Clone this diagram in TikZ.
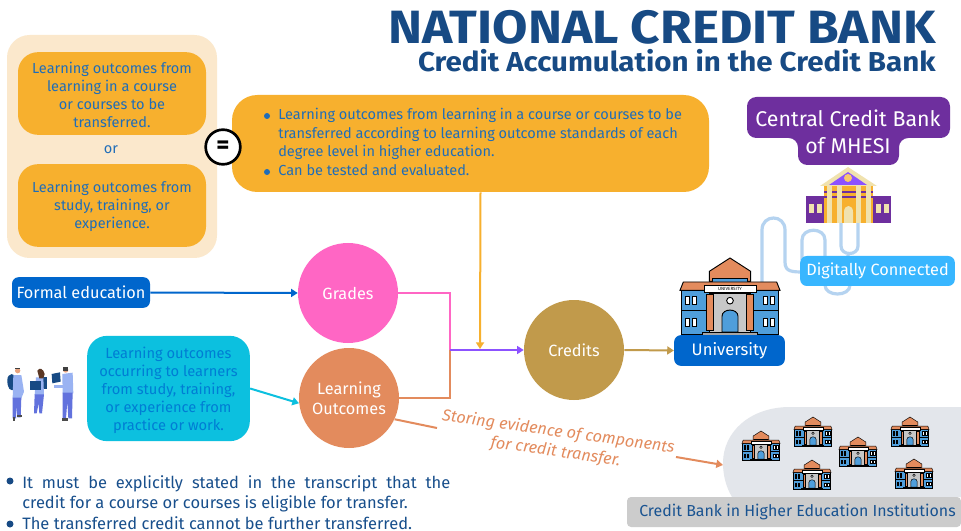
\documentclass[tikz,border=0pt]{standalone}
\usepackage{fontspec}
\setmainfont{Fira Sans}
\usetikzlibrary{arrows.meta,calc}
\definecolor{titleblue}{HTML}{174A84}
\definecolor{txtblue}{HTML}{1F6DB8}
\definecolor{orangebox}{HTML}{F7B02E}
\definecolor{cream}{HTML}{FBE8CC}
\definecolor{purplebox}{HTML}{6E2F9E}
\definecolor{bluebox}{HTML}{0066CC}
\definecolor{skybox}{HTML}{38B6FF}
\definecolor{cyanbox}{HTML}{0CC0DF}
\definecolor{pinkc}{HTML}{FF66C4}
\definecolor{terra}{HTML}{E38B5D}
\definecolor{gold}{HTML}{C19A4B}
\definecolor{violetl}{HTML}{8C52FF}
\definecolor{blobgray}{HTML}{E3E6EB}
\definecolor{stripgray}{HTML}{CCCCCC}
\definecolor{cable}{HTML}{B5D3F0}
\definecolor{bldblue}{HTML}{4F9EDB}
\definecolor{palecol}{HTML}{F0E2AE}
\tikzset{
  x=.75pt,y=-.75pt,
  tip/.style={-{Triangle[length=5pt,width=6pt]}},
  conn/.style={line width=1.5pt},
  body/.style={font=\fontsize{10.9}{13.5}\selectfont,text=txtblue,align=center,inner sep=0pt},
  obox/.style={fill=orangebox,rounded corners=15pt,minimum width=141pt,minimum height=62pt,inner sep=0pt},
  circ/.style={circle,minimum size=75pt,inner sep=0pt,text=white,align=center,font=\fontsize{12.2}{15}\selectfont},
  pill/.style={rounded corners=5pt,inner sep=0pt,text=white},
  pics/uni/.style={code={
    \draw[fill=terra] (-62,40) -- (0,0) -- (62,40) -- (62,70) -- (-62,70) -- cycle;
    \draw[fill=bldblue] (-52,62) rectangle (52,80);
    \draw[fill=bldblue] (-145,95) rectangle (145,230);
    \draw[fill=terra] (-150,97) -- (-140,72) -- (140,72) -- (150,97) -- cycle;
    \draw (-145,158) -- (145,158);
    \foreach \s in {-1,1}{
      \foreach \a in {100,122}{
        \foreach \b in {115,180}{
          \draw[fill=white] (\s*\a,\b) rectangle (\s*\a+\s*12,\b+25);
        }
      }
    }
    \draw[fill=black!22] (-62,105) rectangle (62,226);
    \draw[fill=terra] (-70,110) rectangle (-50,218);
    \draw[fill=terra] (50,110) rectangle (70,218);
    \draw[fill=white] (-78,83) rectangle (78,103);
    \draw[fill=white] (0,128) circle (10);
    \draw[fill=bldblue] (-24,222) -- (-24,175) .. controls (-24,150) and (24,150) .. (24,175) -- (24,222) -- cycle;
    \draw[fill=black!35] (-83,222) rectangle (83,232);
  }}
}
\begin{document}
\begin{tikzpicture}
\useasboundingbox (0,0) rectangle (961,531);
\fill[white] (0,0) rectangle (961,531);

% Title
\node[anchor=base east,inner sep=0pt,text=titleblue,xscale=1.10,font=\fontsize{35}{38}\selectfont\bfseries] (title) at (936,44) {NATIONAL CREDIT BANK};
\node[anchor=base east,inner sep=0pt,text=titleblue,xscale=1.08,font=\fontsize{20.5}{23}\selectfont\bfseries] (subtitle) at (936,72) {Credit Accumulation in the Credit Bank};

% Upper left
\fill[cream,rounded corners=17pt] (7,35) rectangle (217,258);
\node[obox] (lo1) at (112,93.5) {};
\node[body] (lo1t) at ([yshift=-.8pt]lo1.center) {Learning outcomes from\\learning in a course\\or courses to be\\transferred.};
\node[body] (ortxt) at (111,150) {or};
\node[obox] (lo2) at (112,205.5) {};
\node[body] (lo2t) at ([yshift=-.8pt]lo2.center) {Learning outcomes from\\study, training, or\\experience.};

% Big orange box
\node[fill=orangebox,rounded corners=19pt,minimum width=357.75pt,minimum height=72.75pt,inner sep=0pt] (bigbox) at (470.5,143.5) {};
\node[circle,draw=black,line width=2pt,fill=white,minimum size=26pt,inner sep=0pt,font=\fontsize{19}{19}\selectfont\bfseries] (eqs) at (223,147) {=};
\foreach \y in {116,172}{\fill[txtblue] (267,\y) circle (3);}
\node[anchor=north west,inner sep=0pt,font=\fontsize{10.9}{14}\selectfont,text=txtblue,align=left] (bigtxt) at (278,108) {Learning outcomes from learning in a course or courses to be\\transferred according to learning outcome standards of each\\degree level in higher education.\\Can be tested and evaluated.};

% Central bank
\path[fill=purplebox,rounded corners=7pt] (747,97) -- (950,97) -- (950,138) -- (899,138) -- (899,165) -- (798,165) -- (798,138) -- (747,138) -- cycle;
\node[text=white,align=center,inner sep=0pt,font=\fontsize{16}{20.5}\selectfont] (central) at (848,132) {Central Credit Bank\\of MHESI};

% Cable
\draw[cable,line width=2.4pt] (762,282) -- (762,230) .. controls (762,214) and (785,214) .. (785,230) -- (785,262) .. controls (785,272) and (792,272) .. (805,272);
\draw[cable,line width=2.4pt] (802,260) -- (802,240) .. controls (802,227) and (825,227) .. (825,240) -- (825,285) .. controls (825,297) and (850,297) .. (850,285) -- (848,255);
\draw[cable,line width=2.4pt] (841,222) -- (841,246) .. controls (841,256) and (858,256) .. (858,246) -- (858,222);

% Purple building
\fill[purplebox] (806,196) rectangle (891,223);
\fill[orangebox] (824,186) rectangle (873,223);
\fill[purplebox] (824,191) rectangle (873,193);
\fill[purplebox] (824,196) rectangle (873,198);
\fill[palecol] (848,167) -- (820,186) -- (877,186) -- cycle;
\fill[violetl] (848,172) -- (829,185) -- (867,185) -- cycle;
\fill[orangebox!70!white] (848,178) circle (4);
\foreach \a in {827,837,856,866}{\fill[palecol] (\a,186) rectangle (\a+4.5,223);}
\fill[palecol] (844,223) -- (844,212) .. controls (844,204) and (853,204) .. (853,212) -- (853,223) -- cycle;
\foreach \a in {809,817,876,884}{\fill[palecol] (\a,204) rectangle (\a+4.5,213);}

% Labels on the right
\node[fill=skybox,pill,minimum width=116pt,minimum height=22.5pt,font=\fontsize{12.2}{14}\selectfont] (digital) at (877.5,271) {Digitally Connected};
\pic[scale=1/3,line width=.7pt] at (730,258) {uni};
\node[inner sep=0pt,font=\rmfamily\fontsize{3.4}{4}\selectfont] (unisign) at (730,288.5) {UNIVERSITY};
\node[fill=bluebox,pill,minimum width=83pt,minimum height=23pt,font=\fontsize{12.5}{14}\selectfont] (unilabel) at (729.5,350.5) {University};

% Circles
\node[circ,fill=pinkc] (grades) at (348,293) {Grades};
\node[circ,fill=terra] (lo) at (349,398) {\raisebox{-2pt}{Learning}\\\raisebox{-2pt}{Outcomes}};
\node[circ,fill=gold] (credits) at (574,350) {Credits};

% Left boxes
\node[fill=bluebox,pill,minimum width=103.5pt,minimum height=23pt,font=\fontsize{12.2}{14}\selectfont] (formal) at (81,292.5) {Formal education};
\node[fill=cyanbox,rounded corners=15pt,minimum width=122pt,minimum height=79pt,inner sep=0pt] (learners) at (168.5,388.5) {};
\node[inner sep=0pt,align=center,text=bluebox!85!cyan,font=\fontsize{11}{13.5}\selectfont] (learnerst) at ([yshift=-1.2pt]learners.center) {Learning outcomes\\occurring to learners\\from study, training,\\or experience from\\practice or work.};

% People
\begin{scope}[shift={(0,330)},scale=1/3]
  % person 1
  \fill[titleblue] (22,150) .. controls (22,128) and (48,125) .. (48,150) -- (46,178) .. controls (30,186) and (22,175) .. (22,150) -- cycle;
  \fill[blue!15!cable] (40,135) -- (64,135) -- (72,185) -- (64,205) -- (38,205) -- cycle;
  \fill[blue!40!cable!90!black] (38,203) -- (64,203) -- (62,262) -- (52,262) -- (50,225) -- (48,265) -- (38,265) -- cycle;
  \fill[black!70] (38,262) rectangle (45,272);
  \fill[black!70] (52,254) rectangle (66,262);
  \fill[terra!80!white] (53,122) circle (8);
  \fill[black!75] (45,118) rectangle (61,114);
  % person 2
  \fill[titleblue] (125,140) rectangle (142,178);
  \fill[blue!15!cable] (108,142) -- (130,142) -- (132,195) -- (104,195) -- cycle;
  \fill[blue!40!cable!90!black] (104,193) -- (132,193) -- (126,250) -- (118,250) -- (116,220) -- (110,250) -- (102,250) -- cycle;
  \fill[titleblue] (90,152) rectangle (122,180);
  \fill[terra!80!white] (122,128) circle (8);
  \fill[black!60!terra] (112,122) .. controls (118,112) and (130,115) .. (134,132) -- (130,145) -- (118,145) -- cycle;
  % person 3
  \fill[titleblue] (155,132) -- (180,127) -- (182,155) -- (157,160) -- cycle;
  \fill[blue!15!cable] (187,132) -- (218,128) -- (220,190) -- (188,190) -- cycle;
  \fill[blue!15!cable] (163,165) rectangle (195,175);
  \fill[blue!40!cable!90!black] (188,188) -- (218,188) -- (216,265) -- (205,265) -- (202,215) -- (198,265) -- (188,265) -- cycle;
  \fill[black!70] (186,263) rectangle (203,272);
  \fill[terra!80!white] (197,120) circle (8);
  \fill[black!75] (190,112) rectangle (205,122);
\end{scope}

% Lower right
\path[fill=blobgray] (961,407) -- (790,407) .. controls (750,407) and (723,432) .. (723,463) .. controls (723,475) and (726,487) .. (732,497) -- (961,497) -- cycle;
\node[fill=stripgray,rounded corners=3pt,minimum width=250.5pt,minimum height=22.5pt,inner sep=0pt] (strip) at (794,512) {};
\node[anchor=east,inner sep=0pt,text=titleblue!75!txtblue,font=\fontsize{11.95}{14}\selectfont] (striptxt) at (956,512) {Credit Bank in Higher Education Institutions};
\foreach \nm/\a/\b in {a/761/431,b/813/417,c/858/437,d/910/417,e/812/460,f/914/459}{
  \pic (\nm) [scale=.127,line width=.35pt] at (\a,\b) {uni};
}

% Connectors
\coordinate (join) at (450,350);
\coordinate (creditin) at (480,349);
\coordinate (storefree) at (437,428);
\coordinate (storeout) at (676,457);
\coordinate (blobin) at (723,465);
\draw[pinkc,conn] (grades.east) -| (join);
\draw[terra,conn] (lo.east) -| (join);
\draw[violetl,conn,tip] (join) -- (credits.west);
\draw[orangebox,conn,tip] ([xshift=7.5pt]bigbox.south) -- (creditin);
\draw[gold,conn,tip] (credits.east) -- (unilabel.west);
\draw[bluebox,conn,tip] (formal.east) -- (grades.west);
\draw[cyanbox,conn,tip] (learners.east) -- (lo.186);
\draw[terra,conn] (lo.-25) -- (storefree);
\draw[terra,conn,tip] (storeout) -- (blobin);
\node[rotate=-8,inner sep=0pt,align=center,text=terra,font=\fontsize{12.2}{15}\selectfont\itshape] (storing) at (557,442) {Storing evidence of components\\for credit transfer.};

% Bottom notes
\fill[titleblue] (10,481) circle (3.5);
\fill[titleblue] (10,524) circle (3.5);
\node[anchor=north west,inner sep=0pt,text width=321pt,align=justify,text=titleblue!85!txtblue,font=\fontsize{12.35}{15.4}\selectfont] (note1) at (22,475) {It must be explicitly stated in the transcript that the\linebreak credit for a course or courses is eligible for transfer.};
\node[anchor=north west,inner sep=0pt,text=titleblue!85!txtblue,font=\fontsize{12.35}{15.4}\selectfont] (note2) at (22,516) {The transferred credit cannot be further transferred.};
\end{tikzpicture}
\end{document}
